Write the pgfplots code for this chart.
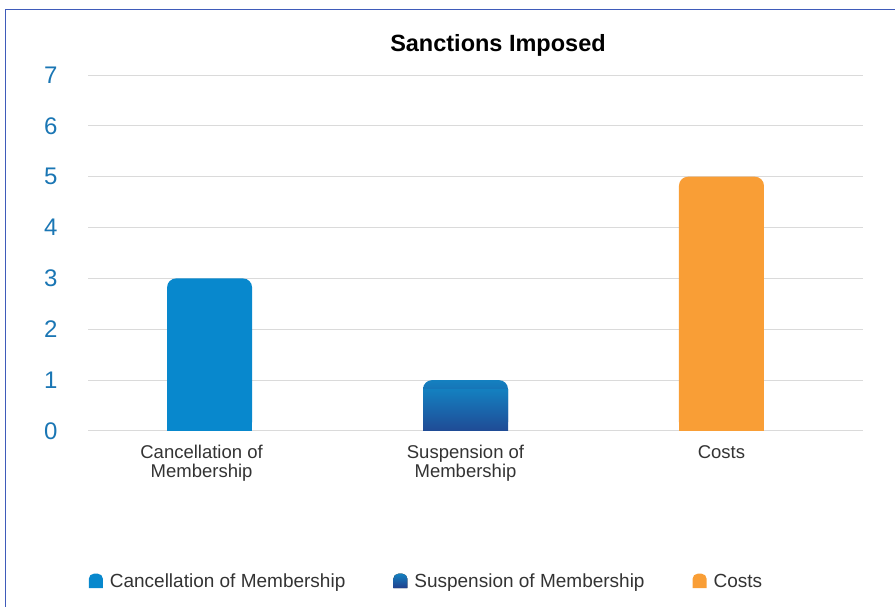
\documentclass[border=0pt]{standalone}
\usepackage{pgfplots}
\pgfplotsset{compat=1.18}
\usepackage{fontspec}
\setmainfont{Liberation Sans}
\definecolor{cancel}{HTML}{0888CD}
\definecolor{suspTop}{HTML}{1480C0}
\definecolor{suspBot}{HTML}{223F8C}
\definecolor{costs}{HTML}{F99E36}
\definecolor{ticky}{HTML}{1A76B4}
\definecolor{gridc}{HTML}{DADADA}
\definecolor{framec}{HTML}{3F5BBA}
\definecolor{labc}{HTML}{333333}
\pgfplotsset{roundleg/.style={legend image code/.code={\fill[##1,sharp corners] (0pt,-7pt) [rounded corners=5pt] -- (0pt,7.5pt) -- (14pt,7.5pt) [sharp corners] -- (14pt,-7pt) -- cycle;}}}
\begin{document}
\begin{tikzpicture}[x=1pt,y=1pt]
\draw[framec, line width=1.6pt] (5.5,-20) -- (5.5,597.5) -- (920,597.5);
\begin{axis}[
  at={(88pt,176pt)}, anchor=south west,
  scale only axis, width=775pt, height=356pt,
  xmin=-0.475, xmax=2.553, ymin=0, ymax=7,
  enlargelimits=false,
  axis line style={draw=none},
  major tick length=0pt,
  ytick={0,1,2,3,4,5,6,7},
  ymajorgrids, grid style={gridc, line width=1pt},
  xtick={0,1,2},
  xticklabels={{\hspace*{-16pt}Cancellation of\\\hspace*{-16pt}Membership},{Suspension of\\Membership},{Costs}},
  xticklabel style={align=center, font=\fontsize{18.5}{19}\selectfont, text=labc, yshift=-11pt},
  yticklabel style={font=\fontsize{24}{26}\selectfont, text=ticky, xshift=-27pt},
  /pgf/number format/assume math mode=true,
  title={Sanctions Imposed},
  title style={font=\bfseries\fontsize{23.5}{26}\selectfont, at={(axis description cs:0.529,1.0478)}, anchor=base},
  legend style={at={(axis description cs:-0.003,-0.422)}, anchor=west, draw=none, fill=none,
    font=\fontsize{19}{20}\selectfont, text=labc, legend columns=3,
    /tikz/every odd column/.append style={column sep=5pt},
    /tikz/every even column/.append style={column sep=46pt}},
  ybar, bar width=85pt, bar shift=0pt,
]
\addplot[draw=none, fill=cancel, rounded corners=9pt, roundleg] coordinates {(0,3)};
\addlegendentry{Cancellation of Membership}
\addplot[draw=none, top color=suspTop, bottom color=suspBot, shading=axis, rounded corners=9pt, roundleg] coordinates {(1,1)};
\addlegendentry{Suspension of Membership}
\addplot[draw=none, fill=costs, rounded corners=9pt, roundleg] coordinates {(2,5)};
\addlegendentry{Costs}
\addplot[forget plot, draw=none, fill=cancel, sharp corners, yshift=-9pt] coordinates {(0,3)};
\addplot[forget plot, draw=none, top color=suspTop, bottom color=suspBot, shading=axis, sharp corners, yshift=-9pt] coordinates {(1,1)};
\addplot[forget plot, draw=none, fill=costs, sharp corners, yshift=-9pt] coordinates {(2,5)};
\end{axis}
\pgfresetboundingbox
\path[use as bounding box] (0,0) rectangle (895,607);
\end{tikzpicture}
\end{document}
